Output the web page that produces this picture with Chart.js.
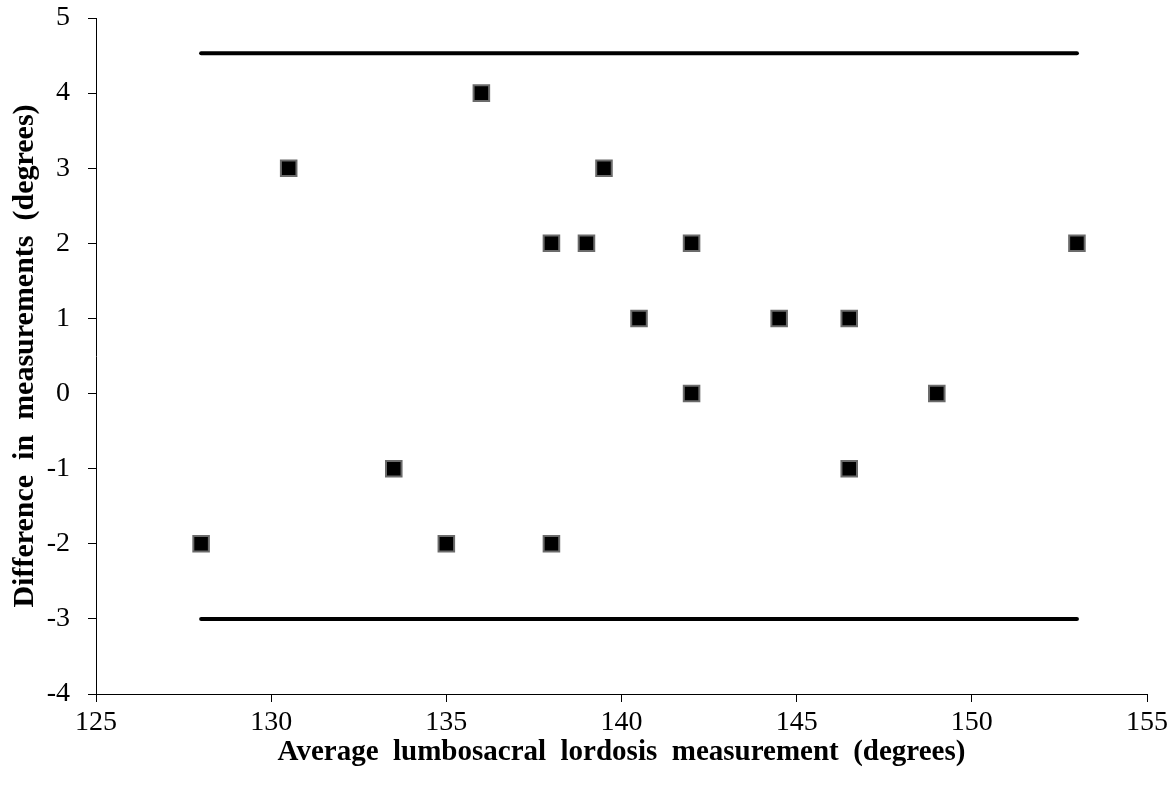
<!DOCTYPE html>
<html>
<head>
<meta charset="utf-8">
<script src="https://cdn.jsdelivr.net/npm/chart.js@4.4.1/dist/chart.umd.min.js"></script>
<style>
  html, body { margin: 0; padding: 0; background: #fff; }
  #wrap { width: 1175px; height: 788px; }
</style>
</head>
<body>
<div id="wrap"><canvas id="grafico" width="1175" height="788"></canvas></div>
<script>
// promedio de las dos mediciones (x) y diferencia (y)
const promedio = [128, 130.5, 133.5, 135, 136, 138, 138, 139, 139.5, 140.5, 142, 142, 144.5, 146.5, 146.5, 149, 153];
const diferencia = [-2, 3, -1, -2, 4, 2, -2, 2, 3, 1, 2, 0, 1, 1, -1, 0, 2];

// limites de acuerdo
const limiteX = [128, 153];
const limiteSuperior = 4.53;
const limiteInferior = -3.0;

const ejeX = { min: 125, max: 155, paso: 5 };
const ejeY = { min: -4, max: 5, paso: 1 };

const puntos = promedio.map((x, i) => ({ x: x, y: diferencia[i] }));
const lineaSup = limiteX.map(x => ({ x: x, y: limiteSuperior }));
const lineaInf = limiteX.map(x => ({ x: x, y: limiteInferior }));

const fuente = "'Liberation Serif', 'Times New Roman', serif";

const CHART = document.getElementById("grafico");
let grafico = new Chart(CHART, {
    type: 'scatter',
    data: {
        datasets: [
            {
                label: 'Diferencia',
                data: puntos,
                pointStyle: 'rect',
                pointRadius: 11,
                pointHoverRadius: 11,
                backgroundColor: '#000000',
                borderColor: '#6b6b6b',
                borderWidth: 2
            },
            {
                label: 'Limite superior',
                data: lineaSup,
                showLine: true,
                borderColor: '#000000',
                borderWidth: 4,
                pointRadius: 0,
                borderCapStyle: 'round'
            },
            {
                label: 'Limite inferior',
                data: lineaInf,
                showLine: true,
                borderColor: '#000000',
                borderWidth: 4,
                pointRadius: 0,
                borderCapStyle: 'round'
            }
        ]
    },
    options: {
        responsive: false,
        animation: false,
        layout: { padding: { top: 18, right: 28, left: 0, bottom: 0 } },
        plugins: {
            legend: { display: false },
            tooltip: { enabled: false }
        },
        scales: {
            x: {
                type: 'linear',
                min: ejeX.min,
                max: ejeX.max,
                afterFit: function(scale) {
                    scale.height = 94;
                    scale.paddingLeft = 0;
                    scale.paddingRight = 0;
                },
                ticks: {
                    stepSize: ejeX.paso,
                    color: '#000',
                    padding: 4,
                    font: { family: fuente, size: 28 }
                },
                grid: {
                    drawOnChartArea: false,
                    drawTicks: true,
                    tickLength: 8,
                    color: '#000'
                },
                border: { display: true, color: '#000', width: 1 },
                title: {
                    display: true,
                    text: 'Average  lumbosacral  lordosis  measurement  (degrees)',
                    color: '#000',
                    font: { family: fuente, size: 29, weight: 'bold' },
                    padding: { top: 0, bottom: 18 }
                }
            },
            y: {
                type: 'linear',
                min: ejeY.min,
                max: ejeY.max,
                afterFit: function(scale) {
                    scale.width = 96;
                    scale.paddingTop = 0;
                    scale.paddingBottom = 0;
                },
                ticks: {
                    stepSize: ejeY.paso,
                    color: '#000',
                    padding: 18,
                    font: { family: fuente, size: 28 }
                },
                grid: {
                    drawOnChartArea: false,
                    drawTicks: true,
                    tickLength: 8,
                    color: '#000'
                },
                border: { display: true, color: '#000', width: 1 },
                title: {
                    display: true,
                    text: 'Difference  in  measurements  (degrees)',
                    color: '#000',
                    font: { family: fuente, size: 30, weight: 'bold' },
                    padding: { top: 7, bottom: 0 }
                }
            }
        }
    }
});
</script>
</body>
</html>
